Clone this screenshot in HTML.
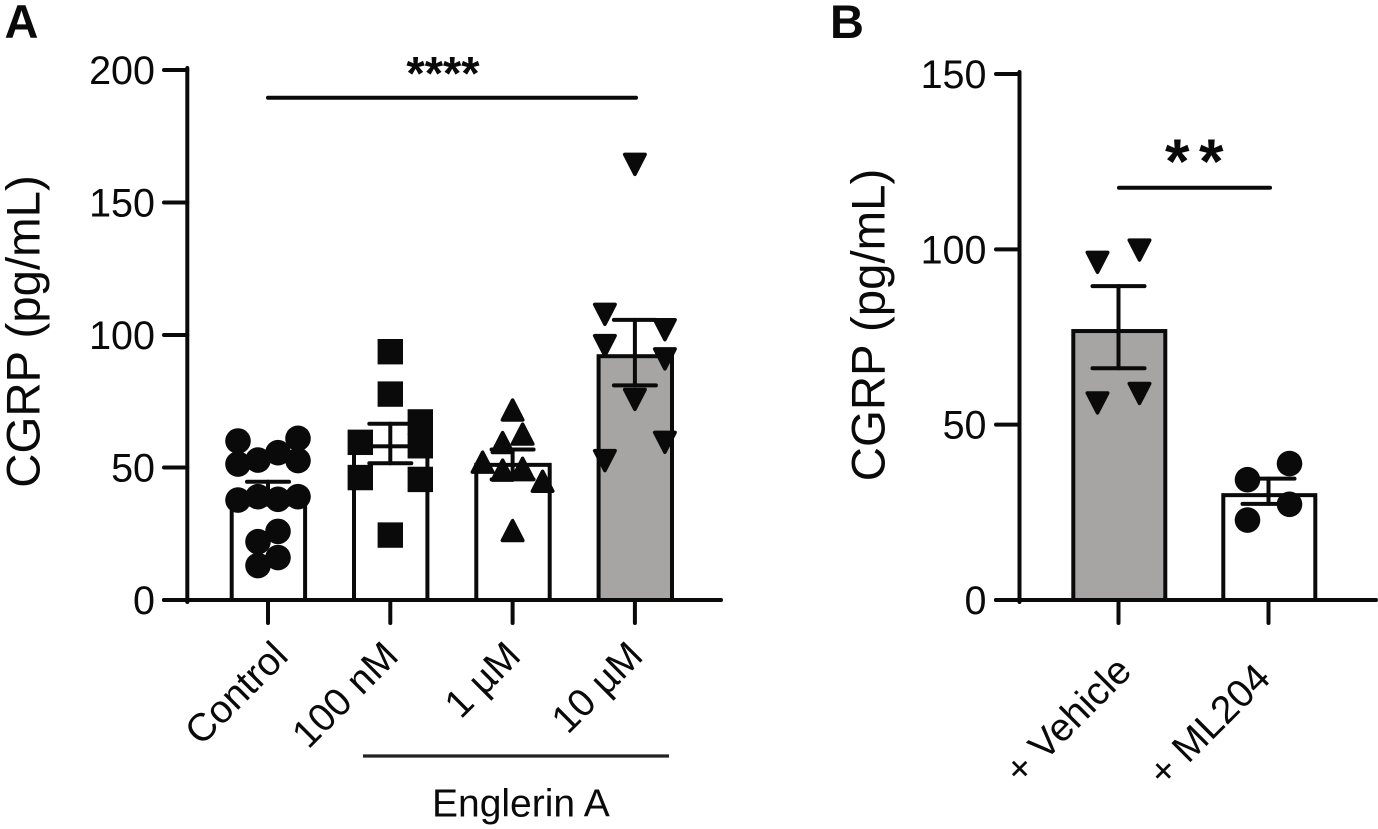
<!DOCTYPE html>
<html lang="en">
<head>
<meta charset="utf-8">
<title>CGRP release charts</title>
<style>
html,body{margin:0;padding:0;background:#fff;width:1378px;height:829px;overflow:hidden}
svg{display:block;font-family:"Liberation Sans",Arial,sans-serif;fill:#0a0a0a}
</style>
</head>
<body>
<svg id="figure" xmlns="http://www.w3.org/2000/svg" width="1378" height="829" viewBox="0 0 1378 829">
  <rect x="0" y="0" width="1378" height="829" fill="#ffffff"/>
  <text x="4.5" y="38" font-size="47" font-weight="700">A</text>
  <text x="830" y="38" font-size="47" font-weight="700">B</text>
  <text transform="translate(39.5 331.5) rotate(-90)" text-anchor="middle" font-size="47.4">CGRP (pg/mL)</text>
  <text transform="translate(884.3 325) rotate(-90)" text-anchor="middle" font-size="47.4">CGRP (pg/mL)</text>
  <g id="panelA"></g>
  <g id="panelB"></g>
  <line x1="268" y1="97.7" x2="636" y2="97.7" stroke="#0a0a0a" stroke-width="4" stroke-linecap="round"/>
  <text x="443" y="89.5" text-anchor="middle" font-size="47" font-weight="700">****</text>
  <line x1="1119" y1="187.7" x2="1270" y2="187.7" stroke="#0a0a0a" stroke-width="4" stroke-linecap="round"/>
  <text x="1199" y="183" text-anchor="middle" font-size="63" font-weight="700" letter-spacing="9.5">**</text>
  <line x1="363" y1="756" x2="669" y2="756" stroke="#222222" stroke-width="3.2"/>
  <text x="432" y="816.7" font-size="39">Englerin A</text>
</svg>
<script>
// Panel A data
const categoriesA = ['Control', '100 nM', '1 µM', '10 µM'];
const ticksA = [0, 50, 100, 150, 200];
const meansA = [40, 58, 51, 92];
const errorTopA = [44.6, 66.5, 56.8, 105.7];
const errorBottomA = [36, 51.6, 45.5, 81];
const controlValues = [60, 61, 55.6, 52.8, 51.3, 52.6, 37.7, 39, 38, 39, 25.9, 22, 16, 13];
const controlColumns = [-1.5, 1.5, 0.5, -0.5, -1.5, 1.5, -1.5, -0.5, 0.5, 1.5, 0.5, -0.5, 0.5, -0.5];
const nM100Values = [93.7, 77.7, 24.5, 59.5, 46.2, 67.2, 58.2, 45.5];
const nM100Columns = [0, 0, 0, -1.5, -1.5, 1.5, 1.5, 1.5];
const uM1Values = [71.7, 62.6, 59.4, 52, 49, 49.7, 44.8, 26.2];
const uM1Columns = [0, 0.5, -0.5, -1.5, -0.5, 0.5, 1.5, 0];
const uM10Values = [164.4, 107.8, 102, 96, 91, 75.7, 59.5, 52.6];
const uM10Columns = [0, -1.5, 1.5, -1.5, 1.5, 0, 1.5, -1.5];

// Panel B data
const categoriesB = ['+ Vehicle', '+ ML204'];
const ticksB = [0, 50, 100, 150];
const meansB = [76.7, 29.9];
const errorTopB = [89.5, 34.6];
const errorBottomB = [66.1, 27.4];
const vehicleValues = [96.3, 99.8, 56.2, 58.9];
const vehicleColumns = [-1, 1, -1, 1];
const ml204Values = [38.9, 34.3, 27.3, 22.8];
const ml204Columns = [1, -1, 1, -1];

const NS = 'http://www.w3.org/2000/svg';
const INK = '#0a0a0a';
const GREY = '#a6a5a3';

function mk(tag, attrs, parent) {
  const el = document.createElementNS(NS, tag);
  for (const k in attrs) el.setAttribute(k, attrs[k]);
  parent.appendChild(el);
  return el;
}

function marker(shape, cx, cy, parent) {
  let el;
  if (shape === 'circle') {
    el = mk('circle', {cx: cx, cy: cy, r: 12.8, fill: INK}, parent);
  } else if (shape === 'square') {
    el = mk('rect', {x: cx - 12.7, y: cy - 12.7, width: 25.4, height: 25.4, fill: INK}, parent);
  } else {
    const d = shape === 'up' ? -1 : 1;
    const pts = [[cx - 10.2, cy - d * 9.9], [cx + 10.2, cy - d * 9.9], [cx, cy + d * 9.9]];
    el = mk('polygon', {points: pts.map(p => p.join(',')).join(' '), fill: INK, stroke: INK, 'stroke-width': 3.6, 'stroke-linejoin': 'round'}, parent);
  }
  return el;
}

function drawPanel(cfg) {
  const g = cfg.root;
  const y = v => cfg.y0 + (cfg.yTop - cfg.y0) * v / cfg.yMax;
  const x = i => cfg.x0 + cfg.step * i;
  const lineAttrs = {stroke: INK, 'stroke-width': 4, 'stroke-linecap': 'round'};

  // bars
  cfg.means.forEach((m, i) => {
    const bar = mk('rect', {x: x(i) - cfg.barHalf + cfg.barShift, y: y(m), width: cfg.barHalf * 2, height: cfg.y0 - y(m), fill: cfg.fills[i], stroke: INK, 'stroke-width': 4}, g);
    
    
  });

  // axes
  const xAxis = mk('line', Object.assign({x1: cfg.tickLeft, y1: cfg.y0, x2: cfg.xEnd, y2: cfg.y0}, lineAttrs), g);
  
  
  const yAxis = mk('line', Object.assign({x1: cfg.axisX, y1: cfg.y0 + 2, x2: cfg.axisX, y2: y(cfg.yMax) - 2}, lineAttrs), g);
  
  

  cfg.ticks.forEach(t => {
    const tick = mk('line', Object.assign({x1: cfg.tickLeft, y1: y(t), x2: cfg.axisX, y2: y(t)}, lineAttrs), g);
    
    
    const label = mk('text', {x: cfg.tickLabelX, y: y(t) + 14, 'text-anchor': 'end', 'font-size': 39.5}, g);
    label.textContent = String(t);
    
    
  });

  cfg.categories.forEach((c, i) => {
    const tick = mk('line', Object.assign({x1: x(i), y1: cfg.y0, x2: x(i), y2: cfg.y0 + 23}, lineAttrs), g);
    
    
    const label = mk('text', {transform: 'translate(' + (x(i) + cfg.labelDx(i)) + ' ' + cfg.labelY(i) + ') rotate(-45)', 'text-anchor': 'end', 'font-size': 39}, g);
    label.textContent = c;
    
    
  });

  // points
  cfg.groups.forEach((grp, i) => {
    grp.values.forEach((v, k) => {
      const m = marker(grp.shape, x(i) + grp.columns[k] * grp.columnStep, y(v), g);
      
      
    });
  });

  // error bars
  cfg.means.forEach((m, i) => {
    const stem = mk('line', Object.assign({x1: x(i), y1: y(cfg.errorTop[i]), x2: x(i), y2: y(cfg.errorBottom[i])}, lineAttrs), g);
    
    
    [cfg.errorTop[i], cfg.errorBottom[i]].forEach(v => {
      const cap = mk('line', Object.assign({x1: x(i) - cfg.capHalf, y1: y(v), x2: x(i) + cfg.capHalf, y2: y(v)}, lineAttrs), g);
      
      
    });
  });
}

drawPanel({
  root: document.getElementById('panelA'),
  y0: 600, yTop: 70, yMax: 200,
  x0: 268, step: 122.3, barHalf: 36.7, barShift: 0.4, capHalf: 21,
  axisX: 187.3, tickLeft: 164, xEnd: 721, tickLabelX: 155,
  categories: categoriesA, ticks: ticksA, means: meansA, errorTop: errorTopA, errorBottom: errorBottomA,
  slugs: ['control', '100-nm', '1-um', '10-um'],
  fills: ['#ffffff', '#ffffff', '#ffffff', GREY],
  labelDx: i => (i === 0 ? 22 : 10),
  labelY: () => 658,
  groups: [
    {shape: 'circle', values: controlValues, columns: controlColumns, columnStep: 20},
    {shape: 'square', values: nM100Values, columns: nM100Columns, columnStep: 20},
    {shape: 'up', values: uM1Values, columns: uM1Columns, columnStep: 20},
    {shape: 'down', values: uM10Values, columns: uM10Columns, columnStep: 20}
  ]
});

drawPanel({
  root: document.getElementById('panelB'),
  y0: 600, yTop: 74, yMax: 150,
  x0: 1118.5, step: 150, barHalf: 46, barShift: 0.8, capHalf: 26,
  axisX: 1019.5, tickLeft: 996, xEnd: 1376, tickLabelX: 986.5,
  categories: categoriesB, ticks: ticksB, means: meansB, errorTop: errorTopB, errorBottom: errorBottomB,
  slugs: ['vehicle', 'ml204'],
  fills: [GREY, '#ffffff'],
  labelDx: i => (i === 0 ? 15 : 4),
  labelY: i => (i === 0 ? 673 : 680),
  groups: [
    {shape: 'down', values: vehicleValues, columns: vehicleColumns, columnStep: 21},
    {shape: 'circle', values: ml204Values, columns: ml204Columns, columnStep: 21}
  ]
});
</script>
</body>
</html>
